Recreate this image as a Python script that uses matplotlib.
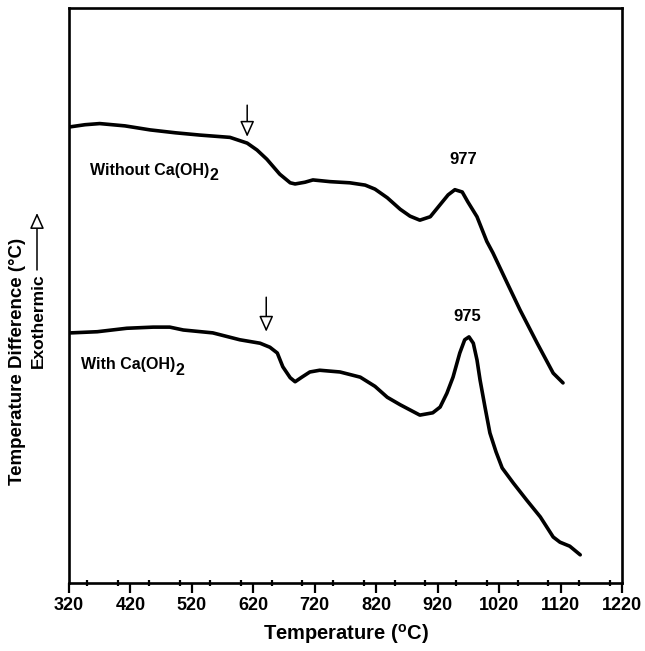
import matplotlib
matplotlib.use("Agg")
import matplotlib.pyplot as plt
from matplotlib.ticker import MultipleLocator
from matplotlib.patches import FancyArrowPatch

plt.rcParams['font.family'] = ['Liberation Sans', 'DejaVu Sans']
plt.rcParams['font.weight'] = 'bold'
plt.rcParams['mathtext.fontset'] = 'custom'
plt.rcParams['mathtext.rm'] = 'Liberation Sans:bold'
plt.rcParams['mathtext.bf'] = 'Liberation Sans:bold'

# Sample without Ca(OH)2
temp_without = [320, 346, 370, 411, 452, 493, 533, 582, 610, 626, 642, 663, 680, 688,
                704, 717, 745, 777, 802, 818, 838, 859, 875, 891, 908, 924, 937, 948,
                960, 969, 984, 1000, 1010, 1033, 1054, 1082, 1108, 1124]
dta_without = [79.3, 79.7, 79.9, 79.5, 78.8, 78.3, 77.9, 77.5, 76.5, 75.3, 73.7, 71.1, 69.6, 69.4,
               69.7, 70.1, 69.8, 69.6, 69.2, 68.5, 67.0, 65.0, 63.8, 63.1, 63.7, 65.8, 67.5, 68.4,
               68.0, 66.3, 63.7, 59.4, 57.4, 52.2, 47.5, 41.7, 36.5, 34.8]

# Sample with Ca(OH)2
temp_with = [323, 366, 414, 457, 484, 506, 554, 598, 631, 647, 659, 668, 680, 688, 699, 712,
             728, 761, 794, 818, 838, 859, 875, 891, 912, 924, 935, 945, 956, 964, 971, 978,
             984, 989, 997, 1005, 1015, 1025, 1043, 1065, 1087, 1108, 1119, 1135, 1152]
dta_with = [43.5, 43.7, 44.3, 44.5, 44.5, 44.0, 43.5, 42.3, 41.7, 41.0, 40.0, 37.6, 35.7, 35.0, 35.8, 36.7,
            37.0, 36.7, 35.8, 34.2, 32.3, 31.0, 30.1, 29.2, 29.6, 30.6, 33.0, 35.8, 40.0, 42.3, 42.8, 41.7,
            38.8, 35.3, 30.6, 26.1, 22.8, 20.0, 17.4, 14.4, 11.5, 8.0, 7.1, 6.4, 4.9]

xticks = [320, 420, 520, 620, 720, 820, 920, 1020, 1120, 1220]

fig = plt.figure(figsize=(6.45, 6.51), dpi=100)
ax = fig.add_axes([69/645, 1 - 583/651, (622 - 69)/645, (583 - 8)/651])

ax.plot(temp_without, dta_without, color='black', lw=2.6, solid_joinstyle='round', solid_capstyle='round')
ax.plot(temp_with, dta_with, color='black', lw=2.6, solid_joinstyle='round', solid_capstyle='round')

ax.set_xlim(320, 1220)
ax.set_ylim(0, 100)
ax.set_xticks(xticks)
ax.xaxis.set_minor_locator(MultipleLocator(50))
ax.set_yticks([])
ax.tick_params(axis='x', which='major', direction='out', length=7, width=1.6, labelsize=13, pad=3)
ax.tick_params(axis='x', which='minor', direction='inout', length=5, width=1.6)
for lab in ax.get_xticklabels():
    lab.set_fontweight('bold')
for s in ax.spines.values():
    s.set_linewidth(1.9)

ax.set_xlabel(r'Temperature ($^\mathbf{o}$C)', fontsize=14.5, fontweight='bold', labelpad=6)

arrow_props = dict(arrowstyle='-|>,head_length=0.8,head_width=0.36', fc='white', ec='black', lw=1.1,
                   shrinkA=0, shrinkB=0, mutation_scale=12)
ax.annotate('', xy=(610, 77.6), xytext=(610, 83.1), arrowprops=arrow_props)
ax.annotate('', xy=(641, 43.7), xytext=(641, 49.7), arrowprops=arrow_props)

t1 = ax.text(354, 71.8, 'Without Ca(OH)', fontsize=11.5, fontweight='bold', va='center', ha='left')
ax.annotate('2', xy=(1, 0), xycoords=t1, xytext=(0.3, -4), textcoords='offset points',
            fontsize=11.5, fontweight='bold', ha='left', va='bottom')
t2 = ax.text(340, 38.0, 'With Ca(OH)', fontsize=11.5, fontweight='bold', va='center', ha='left')
ax.annotate('2', xy=(1, 0), xycoords=t2, xytext=(0.3, -4), textcoords='offset points',
            fontsize=11.5, fontweight='bold', ha='left', va='bottom')
ax.text(961, 73.6, '977', fontsize=12, fontweight='bold', ha='center', va='center')
ax.text(968, 46.3, '975', fontsize=12, fontweight='bold', ha='center', va='center')

fig.text(18/645, 1 - 361/651, 'Temperature Difference (\u00b0C)', rotation=90, fontsize=13.5,
         fontweight='bold', ha='center', va='center')
fig.text(38/645, 1 - 321/651, 'Exothermic', rotation=90, fontsize=12.5,
         fontweight='bold', ha='center', va='center')
fig.patches.append(FancyArrowPatch(
    (37/645, 1 - 270/651), (37/645, 1 - 213/651), transform=fig.transFigure,
    arrowstyle='-|>,head_length=0.8,head_width=0.36', fc='white', ec='black', lw=1.1,
    shrinkA=0, shrinkB=0, mutation_scale=12))

fig.savefig('out.png', dpi=100)
